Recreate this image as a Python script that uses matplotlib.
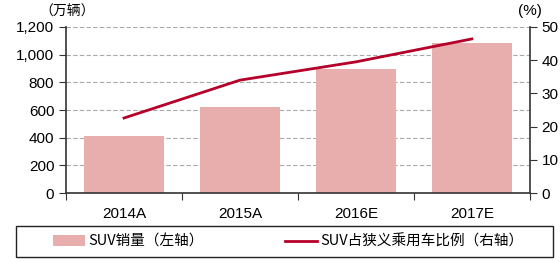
import matplotlib.pyplot as plt
import matplotlib.patches as mpatches
import numpy as np

plt.rcParams['font.family'] = ['Liberation Sans', 'Noto Sans CJK SC']

# data
years = ['2014A', '2015A', '2016E', '2017E']
suv_sales = [412, 622, 897, 1085]        # 万辆, left axis
suv_share = [22.6, 34.0, 39.5, 46.4]     # %, right axis

bar_color = '#E8ADAD'
line_color = '#B5002A'

fig = plt.figure(figsize=(5.6, 2.62), dpi=100)
ax = fig.add_axes([0.118, 0.263, 0.828, 0.634])
ax2 = ax.twinx()

x = np.arange(len(years))
ax.bar(x, suv_sales, width=0.69, color=bar_color, zorder=2, label='SUV销量（左轴）')
ax2.plot(x, suv_share, color=line_color, lw=2, label='SUV占狭义乘用车比例（右轴）')

ax.set_xlim(-0.5, len(years) - 0.5)
ax.set_ylim(0, 1200)
ax.set_yticks(np.arange(0, 1201, 200))
ax.set_yticklabels(['{:,}'.format(v) for v in range(0, 1201, 200)])
ax2.set_ylim(0, 50)
ax2.set_yticks(np.arange(0, 51, 10))

# x ticks between the categories, labels in the middle
ax.set_xticks(np.arange(-0.5, len(years)), minor=False)
ax.set_xticklabels([])
ax.set_xticks(x, minor=True)
ax.set_xticklabels(years, minor=True)
ax.tick_params(axis='x', which='minor', length=0, pad=10)
ax.tick_params(axis='x', which='major', length=5, direction='out', color='#333333')

ax.yaxis.grid(True, linestyle=(0, (4, 2)), color='#AAAAAA', lw=0.8, zorder=0)
ax.set_axisbelow(True)

for a in (ax, ax2):
    a.spines['top'].set_visible(False)
    for s in ('left', 'right', 'bottom'):
        a.spines[s].set_color('#333333')
        a.spines[s].set_linewidth(1.2)
    a.tick_params(axis='y', labelsize=11, length=5, color='#333333')
ax.tick_params(axis='x', which='minor', labelsize=11)
ax.spines['right'].set_visible(False)
ax2.spines['left'].set_visible(False)
ax2.spines['bottom'].set_visible(False)

fig.text(0.07, 0.93, '（万辆）', fontsize=10, family=['Noto Sans CJK SC'], va='bottom')
fig.text(0.925, 0.93, '(%)', fontsize=11, va='bottom')

# legend box
box = mpatches.Rectangle((0.029, 0.019), 0.958, 0.118, transform=fig.transFigure,
                         fill=False, edgecolor='#222222', lw=1.0)
fig.patches.append(box)

h1, l1 = ax.get_legend_handles_labels()
h2, l2 = ax2.get_legend_handles_labels()
leg = fig.legend(h1 + h2, l1 + l2, ncol=2, loc='center',
                 bbox_to_anchor=(0.515, 0.078),
                 prop={'family': ['Noto Sans CJK SC'], 'size': 10.5},
                 frameon=False, handlelength=2.2, handletextpad=0.2,
                 columnspacing=5.6, borderaxespad=0)

fig.savefig('out.png', dpi=100)
